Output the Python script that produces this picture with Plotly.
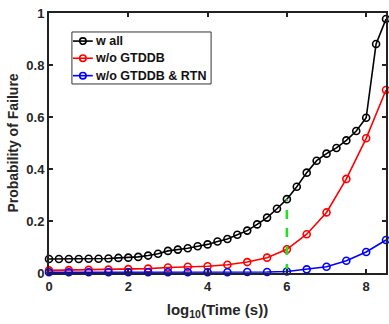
import plotly.graph_objects as go

# log10(time) grids
x_all = [i * 0.25 for i in range(35)]          # 0 .. 8.5, step 0.25
x_sub = [i * 0.5 for i in range(18)]           # 0 .. 8.5, step 0.5

p_all = [0.054, 0.054, 0.054, 0.054, 0.055, 0.055, 0.056, 0.058, 0.059,
         0.062, 0.067, 0.074, 0.085, 0.090, 0.095, 0.103, 0.110, 0.121,
         0.131, 0.147, 0.163, 0.187, 0.213, 0.247, 0.284, 0.332, 0.386,
         0.432, 0.459, 0.481, 0.510, 0.546, 0.597, 0.881, 0.977]
p_no_gtddb = [0.010, 0.011, 0.012, 0.013, 0.015, 0.017, 0.021, 0.024, 0.026,
              0.032, 0.042, 0.059, 0.091, 0.149, 0.233, 0.362, 0.518, 0.704]
p_no_gtddb_rtn = [0.003, 0.003, 0.003, 0.003, 0.003, 0.003, 0.003, 0.003,
                  0.003, 0.003, 0.004, 0.004, 0.006, 0.014, 0.024, 0.047,
                  0.081, 0.127]

series_names = ["w all", "w/o GTDDB", "w/o GTDDB & RTN"]
series_colors = ["#000000", "#ff0000", "#0000ff"]

marker_x = 6.0
marker_top = p_all[x_all.index(marker_x)]

FONT = "Liberation Sans, Arial, sans-serif"
TXT = "#262626"

fig = go.Figure()
for name, xs, ys, col in zip(series_names, [x_all, x_sub, x_sub],
                             [p_all, p_no_gtddb, p_no_gtddb_rtn],
                             series_colors):
    fig.add_trace(go.Scatter(
        x=xs, y=ys, name=name, mode="lines+markers",
        line=dict(color=col, width=1.6),
        marker=dict(symbol="circle-open", size=7, color=col,
                    line=dict(width=1.6, color=col)),
        cliponaxis=False, showlegend=False,
    ))

fig.add_trace(go.Scatter(
    x=[marker_x, marker_x], y=[0, marker_top], mode="lines",
    line=dict(color="#22e022", width=2.6, dash="dash"),
    showlegend=False, hoverinfo="skip",
))

# Compact boxed legend in the upper-left corner of the axes
shapes = [dict(type="rect", xref="paper", yref="paper",
               x0=0.068, x1=0.481, y0=0.727, y1=0.927,
               fillcolor="white", line=dict(color="#333333", width=1),
               layer="above")]
annotations = []
row_y = [0.892, 0.826, 0.759]
for name, col, ry in zip(series_names, series_colors, row_y):
    shapes.append(dict(type="line", xref="paper", yref="paper",
                       x0=0.071, x1=0.130, y0=ry, y1=ry,
                       line=dict(color=col, width=1.6), layer="above"))
    shapes.append(dict(type="circle", xref="paper", yref="paper",
                       xsizemode="pixel", ysizemode="pixel",
                       xanchor=0.1005, yanchor=ry,
                       x0=-3.2, x1=3.2, y0=-3.2, y1=3.2,
                       line=dict(color=col, width=1.6), layer="above"))
    annotations.append(dict(xref="paper", yref="paper", x=0.130, y=ry,
                            xanchor="left", yanchor="middle", showarrow=False,
                            text=f"<b>{name.replace('&', '&amp;')}</b>",
                            font=dict(family=FONT, size=12.5,
                                      color="#111111")))

axis_common = dict(
    showline=True, linecolor="#222222", linewidth=2, mirror="ticks",
    ticks="inside", ticklen=4, tickwidth=1.5, tickcolor="#222222",
    showgrid=False, zeroline=False,
    tickfont=dict(family=FONT, size=13, color=TXT, weight="bold"),
)

fig.update_layout(
    width=389, height=324,
    margin=dict(l=49, r=1, t=13, b=51),
    paper_bgcolor="white", plot_bgcolor="white",
    xaxis=dict(range=[0, 8.5], tickvals=[0, 2, 4, 6, 8],
               title=dict(text="log<sub>10</sub>(Time (s))", standoff=12,
                          font=dict(family=FONT, size=15, color=TXT,
                                    weight="bold")),
               **axis_common),
    yaxis=dict(range=[0, 1], tickvals=[0, 0.2, 0.4, 0.6, 0.8, 1],
               ticktext=["0", "0.2", "0.4", "0.6", "0.8", "1"],
               title=dict(text="Probability of Failure", standoff=4,
                          font=dict(family=FONT, size=14, color=TXT,
                                    weight="bold")),
               **axis_common),
    shapes=shapes, annotations=annotations,
    showlegend=False,
)

fig.write_html("out.html")
